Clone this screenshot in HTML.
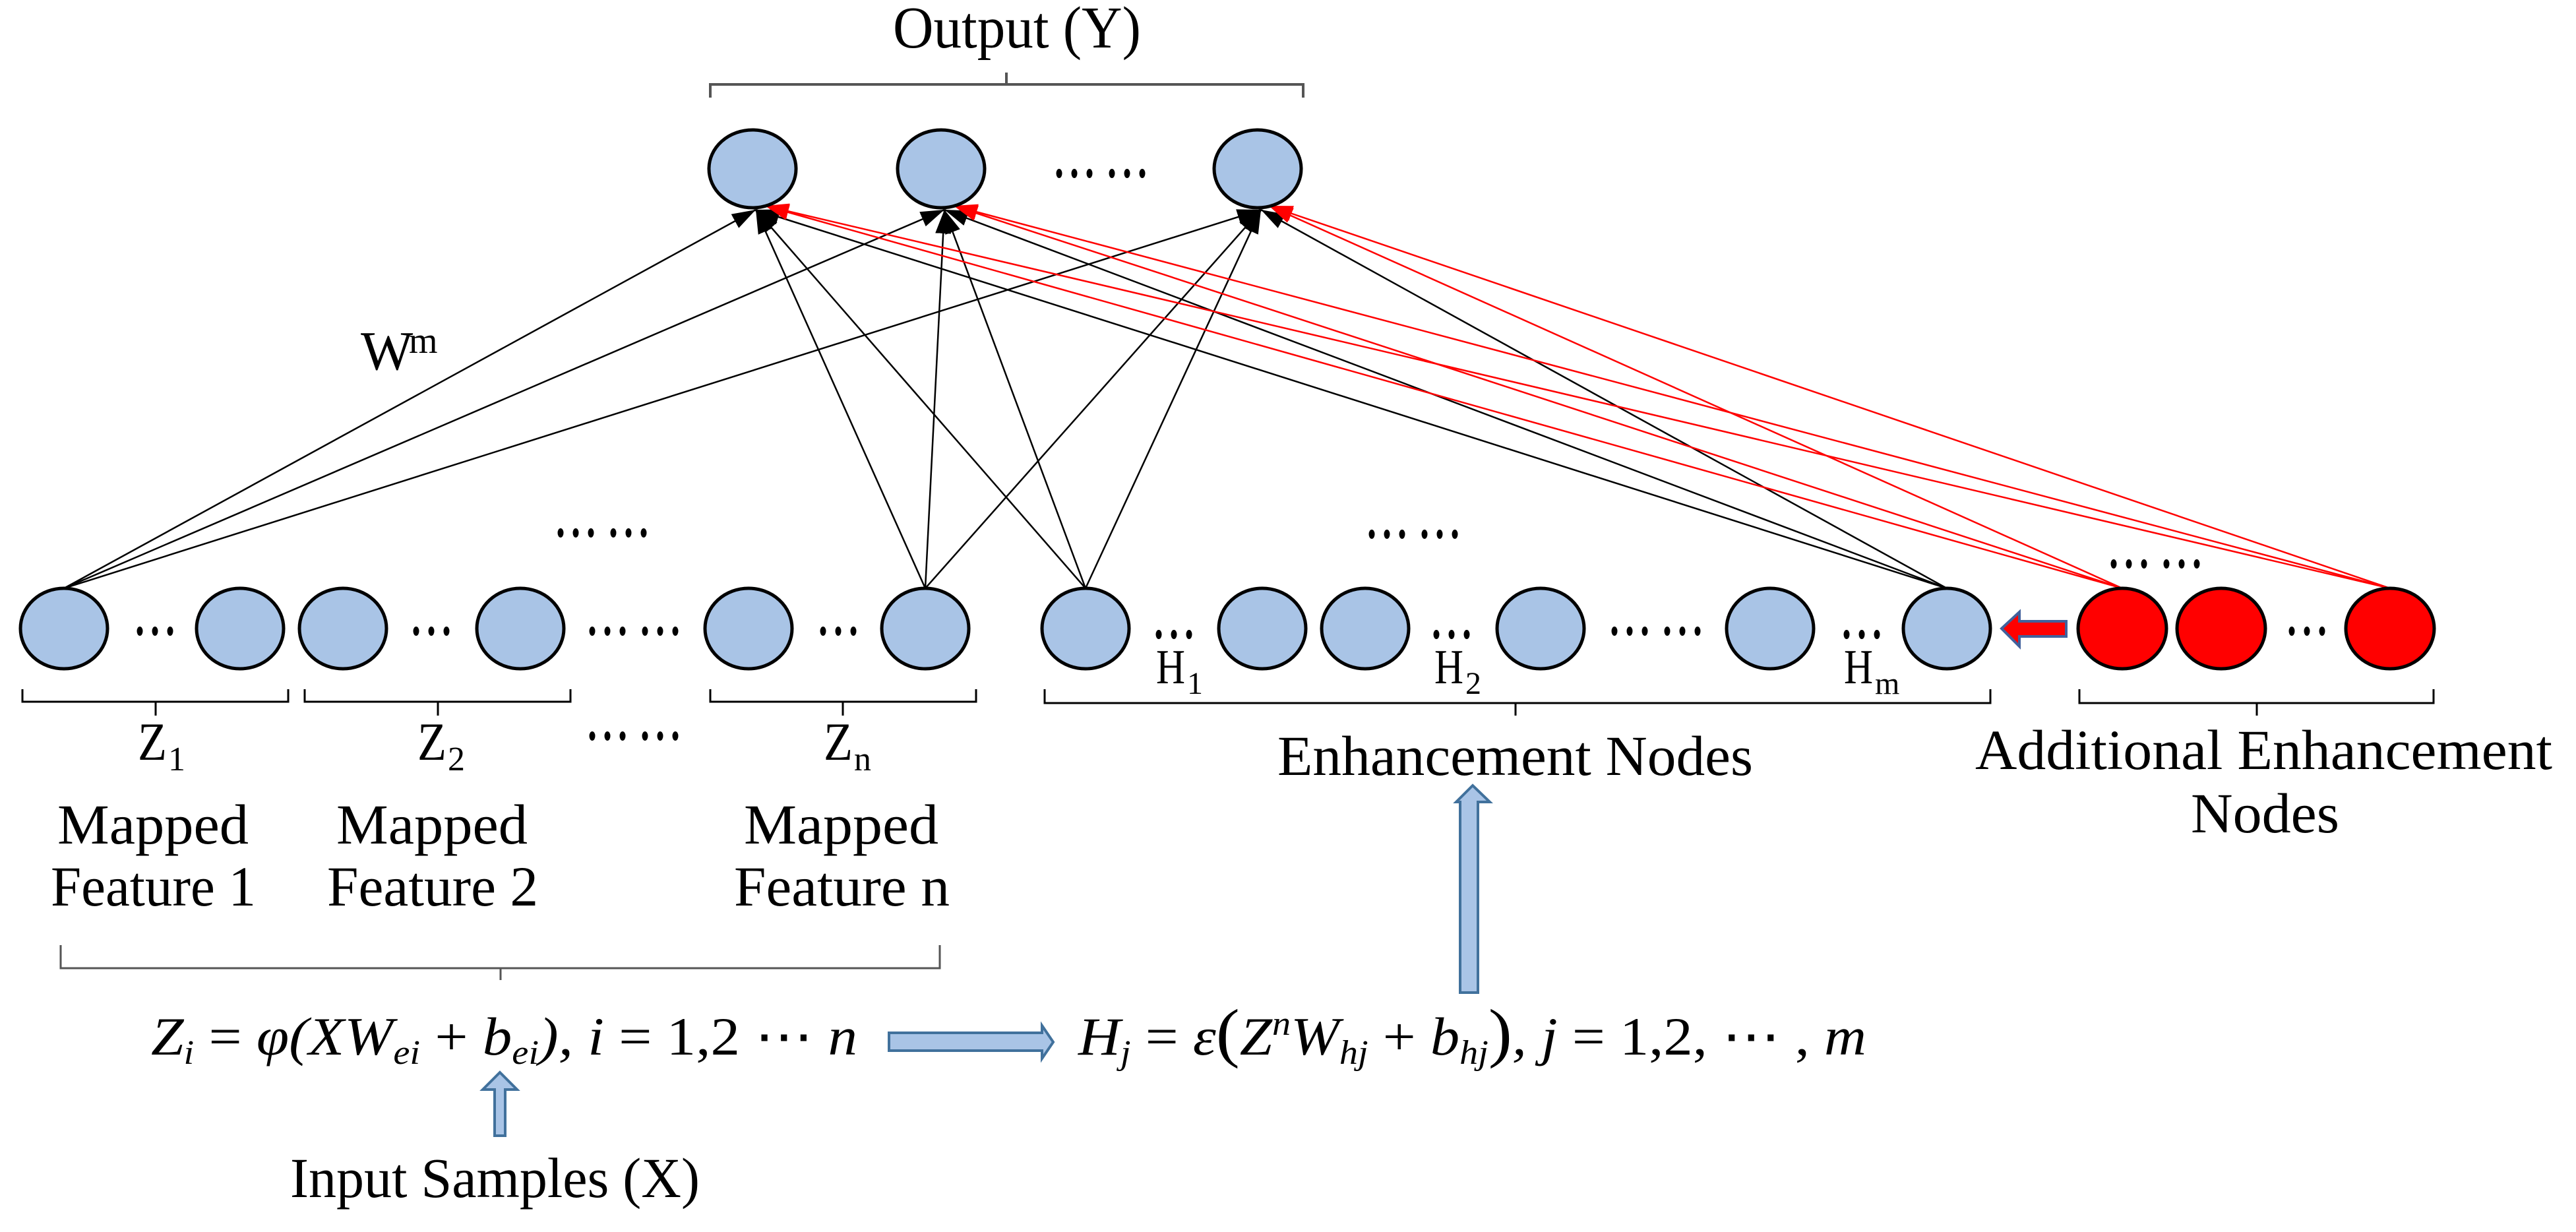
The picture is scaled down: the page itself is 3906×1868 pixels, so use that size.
<!DOCTYPE html>
<html><head><meta charset="utf-8"><style>
html,body{margin:0;padding:0;background:#fff;}
svg{display:block;}
text{font-family:"Liberation Serif",serif;fill:#000;}
</style></head><body>
<svg width="3906" height="1868" viewBox="0 0 3906 1868" xmlns="http://www.w3.org/2000/svg">
<defs>
<marker id="ab" markerUnits="userSpaceOnUse" markerWidth="40" markerHeight="30" refX="36" refY="12" orient="auto"><path d="M0,0 L36,12 L0,24 Z" fill="#000"/></marker>
<marker id="ar" markerUnits="userSpaceOnUse" markerWidth="40" markerHeight="30" refX="36" refY="12" orient="auto"><path d="M0,0 L36,12 L0,24 Z" fill="#f00"/></marker>
<g id="d6"><ellipse cx="0" cy="0" rx="4.5" ry="7"/><ellipse cx="23" cy="0" rx="4.5" ry="7"/><ellipse cx="46" cy="0" rx="4.5" ry="7"/><ellipse cx="80" cy="0" rx="4.5" ry="7"/><ellipse cx="103" cy="0" rx="4.5" ry="7"/><ellipse cx="126" cy="0" rx="4.5" ry="7"/></g>
<g id="d3"><ellipse cx="0" cy="0" rx="4.5" ry="7"/><ellipse cx="23" cy="0" rx="4.5" ry="7"/><ellipse cx="46" cy="0" rx="4.5" ry="7"/></g>
</defs>

<text x="1354" y="72" font-size="90" textLength="376" lengthAdjust="spacingAndGlyphs">Output (Y)</text>
<path d="M1077,148 V128 H1976 V148 M1526,128 V110" fill="none" stroke="#555" stroke-width="4"/>

<g stroke="#000" stroke-width="2.5" fill="none" marker-end="url(#ab)">
<line x1="97" y1="892" x2="1146" y2="318"/>
<line x1="97" y1="892" x2="1432" y2="318"/>
<line x1="97" y1="892" x2="1912" y2="318"/>
<line x1="1403" y1="892" x2="1146" y2="318"/>
<line x1="1403" y1="892" x2="1432" y2="318"/>
<line x1="1403" y1="892" x2="1912" y2="318"/>
<line x1="1646" y1="892" x2="1146" y2="318"/>
<line x1="1646" y1="892" x2="1432" y2="318"/>
<line x1="1646" y1="892" x2="1912" y2="318"/>
<line x1="2952" y1="892" x2="1146" y2="318"/>
<line x1="2952" y1="892" x2="1432" y2="318"/>
<line x1="2952" y1="892" x2="1912" y2="318"/>
</g>
<g stroke="#f00" stroke-width="2.5" fill="none" marker-end="url(#ar)">
<line x1="3218" y1="892" x2="1160" y2="312"/>
<line x1="3218" y1="892" x2="1446" y2="312"/>
<line x1="3218" y1="892" x2="1924" y2="312"/>
<line x1="3624" y1="892" x2="1160" y2="312"/>
<line x1="3624" y1="892" x2="1446" y2="312"/>
<line x1="3624" y1="892" x2="1924" y2="312"/>
</g>

<g fill="#a9c4e6" stroke="#000" stroke-width="5">
<ellipse cx="1141" cy="256" rx="66" ry="59"/>
<ellipse cx="1427" cy="256" rx="66" ry="59"/>
<ellipse cx="1907" cy="256" rx="66" ry="59"/>
</g>
<use href="#d6" x="1606" y="263"/>

<text x="547" y="560" font-size="84">W</text>
<text x="620" y="535" font-size="56">m</text>

<g fill="#a9c4e6" stroke="#000" stroke-width="5">
<ellipse cx="97" cy="953" rx="66" ry="61"/>
<ellipse cx="364" cy="953" rx="66" ry="61"/>
<ellipse cx="520" cy="953" rx="66" ry="61"/>
<ellipse cx="789" cy="953" rx="66" ry="61"/>
<ellipse cx="1135" cy="953" rx="66" ry="61"/>
<ellipse cx="1403" cy="953" rx="66" ry="61"/>
<ellipse cx="1646" cy="953" rx="66" ry="61"/>
<ellipse cx="1914" cy="953" rx="66" ry="61"/>
<ellipse cx="2070" cy="953" rx="66" ry="61"/>
<ellipse cx="2336" cy="953" rx="66" ry="61"/>
<ellipse cx="2684" cy="953" rx="66" ry="61"/>
<ellipse cx="2952" cy="953" rx="66" ry="61"/>
</g>
<g fill="#f00" stroke="#000" stroke-width="5">
<ellipse cx="3218" cy="953" rx="67" ry="61"/>
<ellipse cx="3368" cy="953" rx="67" ry="61"/>
<ellipse cx="3624" cy="953" rx="67" ry="61"/>
</g>

<use href="#d6" x="850" y="808"/>
<use href="#d6" x="898" y="957"/>
<use href="#d6" x="898" y="1116"/>
<use href="#d6" x="2080" y="810"/>
<use href="#d6" x="2448" y="957"/>
<use href="#d6" x="3205" y="855"/>
<use href="#d3" x="212" y="957"/>
<use href="#d3" x="631" y="957"/>
<use href="#d3" x="1248" y="957"/>
<use href="#d3" x="1757" y="962"/>
<use href="#d3" x="2178" y="962"/>
<use href="#d3" x="2800" y="962"/>
<use href="#d3" x="3475" y="957"/>

<path d="M3035,953 L3062,928 L3062,942 L3133,942 L3133,965 L3062,965 L3062,980 Z" fill="#f00" stroke="#41619c" stroke-width="4"/>

<text x="1753" y="1036" font-size="74" textLength="44" lengthAdjust="spacingAndGlyphs">H</text><text x="1800" y="1052" font-size="48">1</text>
<text x="2175" y="1036" font-size="74" textLength="44" lengthAdjust="spacingAndGlyphs">H</text><text x="2222" y="1052" font-size="48">2</text>
<text x="2796" y="1036" font-size="74" textLength="44" lengthAdjust="spacingAndGlyphs">H</text><text x="2843" y="1052" font-size="48">m</text>

<g fill="none" stroke="#000" stroke-width="3">
<path d="M34,1045 V1064 H437 V1045 M236,1064 V1085"/>
<path d="M462,1045 V1064 H865 V1045 M664,1064 V1085"/>
<path d="M1077,1045 V1064 H1480 V1045 M1278,1064 V1085"/>
<path d="M1584,1045 V1066 H3018 V1045 M2298,1066 V1085"/>
<path d="M3153,1045 V1066 H3690 V1045 M3422,1066 V1085"/>
<path d="M92,1433 V1468 H1425 V1433 M759,1468 V1486" stroke="#555"/>
</g>

<text x="209" y="1152" font-size="82" textLength="44" lengthAdjust="spacingAndGlyphs">Z</text><text x="255" y="1168" font-size="52">1</text>
<text x="633" y="1152" font-size="82" textLength="44" lengthAdjust="spacingAndGlyphs">Z</text><text x="679" y="1168" font-size="52">2</text>
<text x="1249" y="1152" font-size="82" textLength="44" lengthAdjust="spacingAndGlyphs">Z</text><text x="1295" y="1168" font-size="52">n</text>

<g font-size="86">
<text x="87" y="1279" textLength="290" lengthAdjust="spacingAndGlyphs">Mapped</text>
<text x="77" y="1373" textLength="311" lengthAdjust="spacingAndGlyphs">Feature 1</text>
<text x="510" y="1279" textLength="290" lengthAdjust="spacingAndGlyphs">Mapped</text>
<text x="496" y="1373" textLength="320" lengthAdjust="spacingAndGlyphs">Feature 2</text>
<text x="1128" y="1279" textLength="295" lengthAdjust="spacingAndGlyphs">Mapped</text>
<text x="1113" y="1373" textLength="327" lengthAdjust="spacingAndGlyphs">Feature n</text>
</g>

<text x="1937" y="1175" font-size="86" textLength="721" lengthAdjust="spacingAndGlyphs">Enhancement Nodes</text>
<text x="2995" y="1166" font-size="86" textLength="875" lengthAdjust="spacingAndGlyphs">Additional Enhancement</text>
<text x="3322" y="1262" font-size="86" textLength="225" lengthAdjust="spacingAndGlyphs">Nodes</text>

<path d="M2233,1191 L2259,1216 L2241,1216 L2241,1505 L2214,1505 L2214,1216 L2208,1216 Z" fill="#a9c4e6" stroke="#41719c" stroke-width="4"/>

<text x="229" y="1599" font-size="82" font-style="italic" textLength="1071" lengthAdjust="spacingAndGlyphs">Z<tspan font-size="52" dy="14">i</tspan><tspan dy="-14" font-style="normal"> = </tspan>φ(XW<tspan font-size="52" dy="14">ei</tspan><tspan dy="-14" font-style="normal"> + </tspan>b<tspan font-size="52" dy="14">ei</tspan><tspan dy="-14">), </tspan>i<tspan font-style="normal"> = 1,2 ⋯ </tspan>n</text>
<path d="M1348,1566 L1580,1566 L1580,1555 L1597,1580 L1580,1605 L1580,1593 L1348,1593 Z" fill="#a9c4e6" stroke="#41719c" stroke-width="4"/>
<text x="1635" y="1599" font-size="82" font-style="italic" textLength="1195" lengthAdjust="spacingAndGlyphs">H<tspan font-size="52" dy="14">j</tspan><tspan dy="-14" font-style="normal"> = </tspan>ε<tspan font-style="normal" font-size="100">(</tspan>Z<tspan font-size="52" dy="-30">n</tspan><tspan dy="30">W</tspan><tspan font-size="52" dy="14">hj</tspan><tspan dy="-14" font-style="normal"> + </tspan>b<tspan font-size="52" dy="14">hj</tspan><tspan dy="-14" font-style="normal" font-size="100">)</tspan><tspan>, </tspan>j<tspan font-style="normal"> = 1,2, ⋯ , </tspan>m</text>

<path d="M758,1626 L784,1652 L766,1652 L766,1722 L750,1722 L750,1652 L732,1652 Z" fill="#a9c4e6" stroke="#41719c" stroke-width="4"/>
<text x="440" y="1815" font-size="86" textLength="621" lengthAdjust="spacingAndGlyphs">Input Samples (X)</text>
</svg>
</body></html>
